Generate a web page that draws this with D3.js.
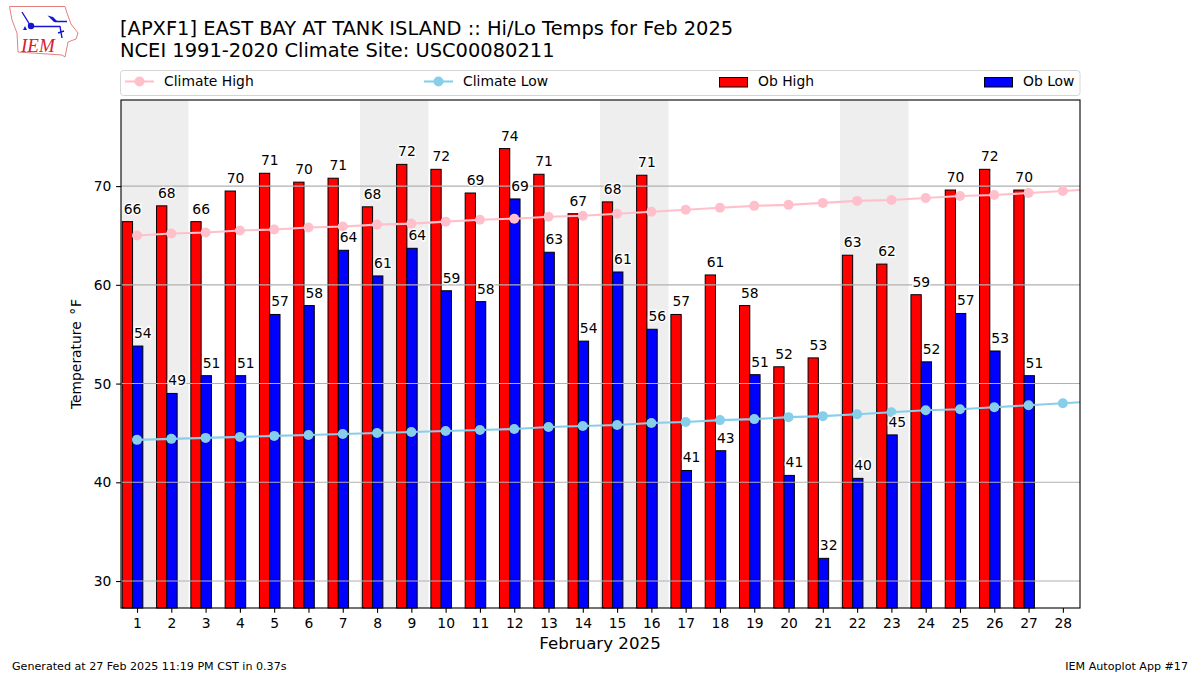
<!DOCTYPE html>
<html>
<head>
<meta charset="utf-8">
<script src="https://cdn.jsdelivr.net/npm/d3@7/dist/d3.min.js"></script>
<style>
html,body{margin:0;padding:0;background:#fff;}
svg{display:block;}
text{font-family:"DejaVu Sans",sans-serif;fill:#000;}
</style>
</head>
<body>
<script>
const days = d3.range(1, 29);
const obHigh = [66.4,68.0,66.4,69.5,71.3,70.4,70.8,67.9,72.2,71.7,69.3,73.8,71.2,67.2,68.4,71.1,57.0,61.0,57.9,51.7,52.6,63.0,62.1,59.0,69.6,71.7,69.6];
const obLow = [53.8,49.0,50.8,50.8,57.0,57.9,63.5,60.9,63.7,59.4,58.3,68.7,63.3,54.3,61.3,55.5,41.2,43.2,50.9,40.7,32.3,40.4,44.8,52.2,57.1,53.3,50.8];
const climateHigh = [65.0,65.2,65.3,65.5,65.6,65.8,65.9,66.1,66.2,66.4,66.6,66.7,66.9,67.0,67.2,67.4,67.6,67.8,68.0,68.1,68.3,68.5,68.6,68.8,69.0,69.1,69.3,69.5,69.7];
const climateLow = [44.3,44.4,44.5,44.6,44.7,44.8,44.9,45.0,45.1,45.2,45.3,45.4,45.6,45.7,45.8,46.0,46.1,46.3,46.4,46.6,46.7,46.9,47.1,47.3,47.4,47.6,47.8,48.0,48.2];
const weekendStarts = [1,8,15,22];
const yTicks = [30,40,50,60,70];
const titleLines = ["[APXF1] EAST BAY AT TANK ISLAND :: Hi/Lo Temps for Feb 2025","NCEI 1991-2020 Climate Site: USC00080211"];

const L=121,R=1080,T=100,B=608;
const x=d3.scaleLinear().domain([0.533,28.5]).range([L,R]);
const y=d3.scaleLinear().domain([27.27,78.72]).range([B,T]);
const unit=x(1)-x(0);
const svg=d3.select("body").append("svg").attr("width",1200).attr("height",675);
svg.append("defs").append("clipPath").attr("id","plot").append("rect").attr("x",L).attr("y",T).attr("width",R-L).attr("height",B-T);

// logo (decorative)
const logo=svg.append("g");
logo.append("path").attr("d","M9.5 6.5 L65 6.5 L67 13 L71 24 L78 33 L76 39 L68 42 L67 47 L65 57 L62 55 L18 52 L17 33 L12 20 Z")
 .attr("fill","#fff").attr("stroke","#e58080").attr("stroke-width",1);
logo.append("text").attr("x",21).attr("y",52).attr("font-size",19).attr("font-style","italic")
 .style("font-family","'Liberation Serif',serif").style("fill","#d62030").text("IEM");
logo.append("path").attr("d","M31 26.5 L60 26.5 L62 38 M22 12 L30 25 M55 21.5 L67 21.5 M58 33 L64 31").attr("stroke","#1515d0").attr("stroke-width",1.4).attr("fill","none");
logo.append("circle").attr("cx",31).attr("cy",26).attr("r",3.2).attr("fill","#1515d0");
logo.append("path").attr("d","M47.5 15.5 L53 17 L58 22 L54 22 Z").attr("fill","#1515d0");
logo.append("path").attr("d","M23 30 L25 26 L27 30 Z").attr("fill","#1515d0");

// titles
svg.append("g").selectAll("text").data(titleLines).join("text")
 .attr("x",120).attr("y",(d,i)=>35+i*22).attr("font-size",19.44).text(d=>d);

// legend
const lg=svg.append("g");
lg.append("rect").attr("x",120.5).attr("y",70.5).attr("width",959.5).attr("height",25).attr("rx",3)
 .attr("fill","#fff").attr("stroke","#d5d5d5");
[["Climate High","pink",125,164],["Climate Low","skyblue",424,463]].forEach(([t,c,a,tx])=>{
  lg.append("line").attr("x1",a).attr("x2",a+29).attr("y1",81.5).attr("y2",81.5).attr("stroke",c).attr("stroke-width",2.08);
  lg.append("circle").attr("cx",a+14.5).attr("cy",81.5).attr("r",5).attr("fill",c);
  lg.append("text").attr("x",tx).attr("y",86).attr("font-size",13.89).text(t);
});
[["Ob High","red",719,758],["Ob Low","blue",984,1023]].forEach(([t,c,a,tx])=>{
  lg.append("rect").attr("x",a+.5).attr("y",77.5).attr("width",28).attr("height",9.5).attr("fill",c).attr("stroke","#000");
  lg.append("text").attr("x",tx).attr("y",86).attr("font-size",13.89).text(t);
});

// weekend shading
svg.append("g").selectAll("rect").data(weekendStarts).join("rect")
 .attr("x",d=>Math.max(L,x(d-0.5))).attr("width",d=>x(d+1.5)-Math.max(L,x(d-0.5)))
 .attr("y",T).attr("height",B-T).attr("fill","#eeeeee");

// bars
const barW=0.3;
function bars(vals,off,color){
  svg.append("g").selectAll("rect").data(vals).join("rect")
   .attr("x",(d,i)=>x(days[i]+off)).attr("width",unit*barW)
   .attr("y",d=>y(d)).attr("height",d=>B-y(d))
   .attr("fill",color).attr("stroke","#000").attr("stroke-width",1);
}
bars(obHigh,-0.43,"red");
bars(obLow,-0.13,"blue");

// grid
svg.append("g").selectAll("line").data(yTicks).join("line")
 .attr("x1",L).attr("x2",R).attr("y1",d=>y(d)).attr("y2",d=>y(d))
 .attr("stroke","#b0b0b0").attr("stroke-width",1.1);

// climate lines
const plot=svg.append("g").attr("clip-path","url(#plot)");
function climate(vals,color){
  const pts=vals.map((v,i)=>[i+1,v]);
  plot.append("path").datum(pts).attr("fill","none").attr("stroke",color).attr("stroke-width",2.08)
   .attr("d",d3.line().x(d=>x(d[0])).y(d=>y(d[1])));
  plot.append("g").selectAll("circle").data(pts).join("circle")
   .attr("cx",d=>x(d[0])).attr("cy",d=>y(d[1])).attr("r",5).attr("fill",color);
}
climate(climateHigh,"pink");
climate(climateLow,"skyblue");

// frame + axes
const xAxis=d3.axisBottom(x).tickValues(days).tickFormat(d3.format("d")).tickSize(4.86).tickPadding(4.86);
const gx=svg.append("g").attr("transform",`translate(0,${B})`).call(xAxis);
const yAxis=d3.axisLeft(y).tickValues(yTicks).tickFormat(d3.format("d")).tickSize(4.86).tickPadding(4.86);
const gy=svg.append("g").attr("transform",`translate(${L},0)`).call(yAxis);
[gx,gy].forEach(g=>{g.select(".domain").remove();
  g.selectAll("text").attr("font-size",13.89).style("font-family",'"DejaVu Sans",sans-serif');
  g.selectAll("line").attr("stroke","#000").attr("stroke-width",1.1);});
svg.append("rect").attr("x",L).attr("y",T).attr("width",R-L).attr("height",B-T)
 .attr("fill","none").attr("stroke","#000").attr("stroke-width",1.1);

// value labels
function labels(vals,off){
  svg.append("g").selectAll("text").data(vals).join("text")
   .attr("x",(d,i)=>x(days[i]+off)+1.5).attr("y",d=>y(d)-8)
   .attr("text-anchor","start").attr("font-size",13.89)
   .attr("stroke","#fff").attr("stroke-width",3).attr("stroke-opacity",0.85).attr("paint-order","stroke")
   .text(d=>d3.format(".0f")(d));
}
labels(obHigh,-0.43);
labels(obLow,-0.13);

// axis titles
svg.append("text").attr("x",600).attr("y",649).attr("text-anchor","middle").attr("font-size",16.67).text("February 2025");
const yl=svg.append("text").attr("transform","translate(81,354) rotate(-90)").attr("text-anchor","middle").attr("font-size",13.89);
yl.append("tspan").text("Temperature ");
yl.append("tspan").attr("dx",2).text("°");
yl.append("tspan").attr("dx",1).text("F");
svg.append("text").attr("x",12).attr("y",670).attr("font-size",11.11).text("Generated at 27 Feb 2025 11:19 PM CST in 0.37s");
svg.append("text").attr("x",1188).attr("y",670).attr("text-anchor","end").attr("font-size",11.11).text("IEM Autoplot App #17");
</script>
</body>
</html>
